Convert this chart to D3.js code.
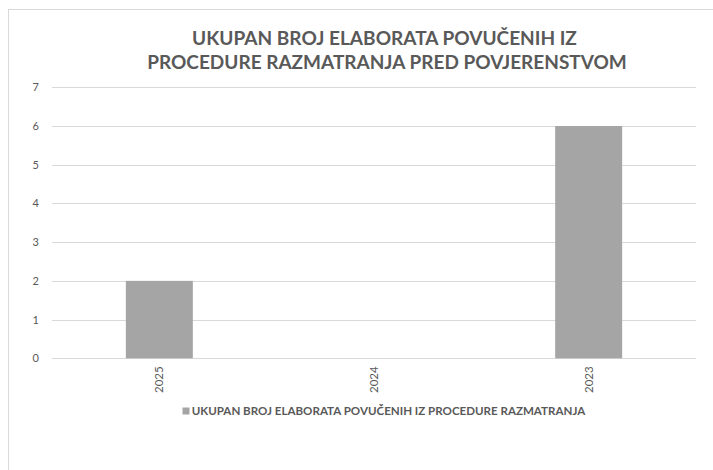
<!DOCTYPE html>
<html>
<head>
<meta charset="utf-8">
<script src="https://cdn.jsdelivr.net/npm/d3@7"></script>
<style>
  html, body { margin: 0; padding: 0; background: #fff; }
  svg { display: block; }
  text { font-family: Lato, "Open Sans", "Liberation Sans", sans-serif; fill: #595959; }
</style>
</head>
<body>
<svg id="chart" width="713" height="470"></svg>
<script>
// Data
const categories = ["2025", "2024", "2023"];
const values = [2, 0, 6];
const yTicks = [0, 1, 2, 3, 4, 5, 6, 7];
const titleLines = ["UKUPAN BROJ ELABORATA POVUČENIH IZ", "PROCEDURE RAZMATRANJA PRED POVJERENSTVOM"];
const seriesName = "UKUPAN BROJ ELABORATA POVUČENIH IZ PROCEDURE RAZMATRANJA";

const svg = d3.select("#chart");
const W = 713, H = 470;
const plot = { left: 52, right: 696, top: 87.3, bottom: 358.3 };
const barColor = "#a5a5a5";
const gridColor = "#d9d9d9";

// Chart frame (extends past the right and bottom edges)
svg.append("rect")
  .attr("x", 8.5).attr("y", 9.5)
  .attr("width", W).attr("height", H)
  .attr("fill", "#fff").attr("stroke", "#d9d9d9").attr("stroke-width", 1);

// Fit a text element to a given width by adjusting its font size
function fitWidth(sel, target, startSize) {
  sel.attr("font-size", startSize);
  const w = sel.node().getComputedTextLength();
  if (w > 0) sel.attr("font-size", startSize * target / w);
}

// Title
const titleSpecs = [
  { y: 44.5, cx: 384.5, w: 385 },
  { y: 68.5, cx: 387, w: 480 }
];
titleLines.forEach((line, i) => {
  const t = svg.append("text")
    .attr("x", titleSpecs[i].cx).attr("y", titleSpecs[i].y)
    .attr("text-anchor", "middle")
    .attr("font-weight", "bold")
    .text(line);
  fitWidth(t, titleSpecs[i].w, 18);
});

// Scales
const x = d3.scaleBand().domain(categories).range([plot.left, plot.right])
  .paddingInner(0.688).paddingOuter(0.344);
const y = d3.scaleLinear().domain([0, 7]).range([plot.bottom, plot.top]);

// Gridlines
svg.append("g").selectAll("line").data(yTicks).join("line")
  .attr("x1", plot.left).attr("x2", plot.right)
  .attr("y1", d => Math.round(y(d)) + 0.5).attr("y2", d => Math.round(y(d)) + 0.5)
  .attr("stroke", gridColor).attr("stroke-width", 1);

// Y axis labels
const yAxis = d3.axisLeft(y).tickValues(yTicks).tickSize(0).tickPadding(0).tickFormat(d3.format("d"));
const gy = svg.append("g").attr("transform", "translate(39,0)").call(yAxis);
gy.select(".domain").remove();
gy.selectAll("text").attr("font-size", 11).attr("fill", "#595959")
  .style("font-family", "Lato, 'Open Sans', sans-serif");

// Bars
svg.append("g").selectAll("rect").data(values).join("rect")
  .attr("x", (d, i) => x(categories[i]))
  .attr("width", x.bandwidth())
  .attr("y", d => y(d))
  .attr("height", d => y(0) - y(d))
  .attr("fill", barColor);

// X axis labels (rotated)
const xAxis = d3.axisBottom(x).tickSize(0).tickPadding(0);
const gx = svg.append("g").attr("transform", `translate(0,${plot.bottom})`).call(xAxis);
gx.select(".domain").remove();
gx.selectAll("text")
  .attr("font-size", 11.5).attr("fill", "#595959")
  .style("font-family", "Lato, 'Open Sans', sans-serif")
  .attr("text-anchor", "end")
  .attr("transform", "rotate(-90)")
  .attr("x", -8).attr("y", 0).attr("dy", "0.35em");

// Legend
const lg = svg.append("g");
lg.append("rect").attr("x", 182.5).attr("y", 407.5).attr("width", 7).attr("height", 7).attr("fill", barColor);
const lt = lg.append("text").attr("x", 191.7).attr("y", 415)
  .attr("font-weight", "bold").text(seriesName);
fitWidth(lt, 394, 11);
</script>
</body>
</html>
